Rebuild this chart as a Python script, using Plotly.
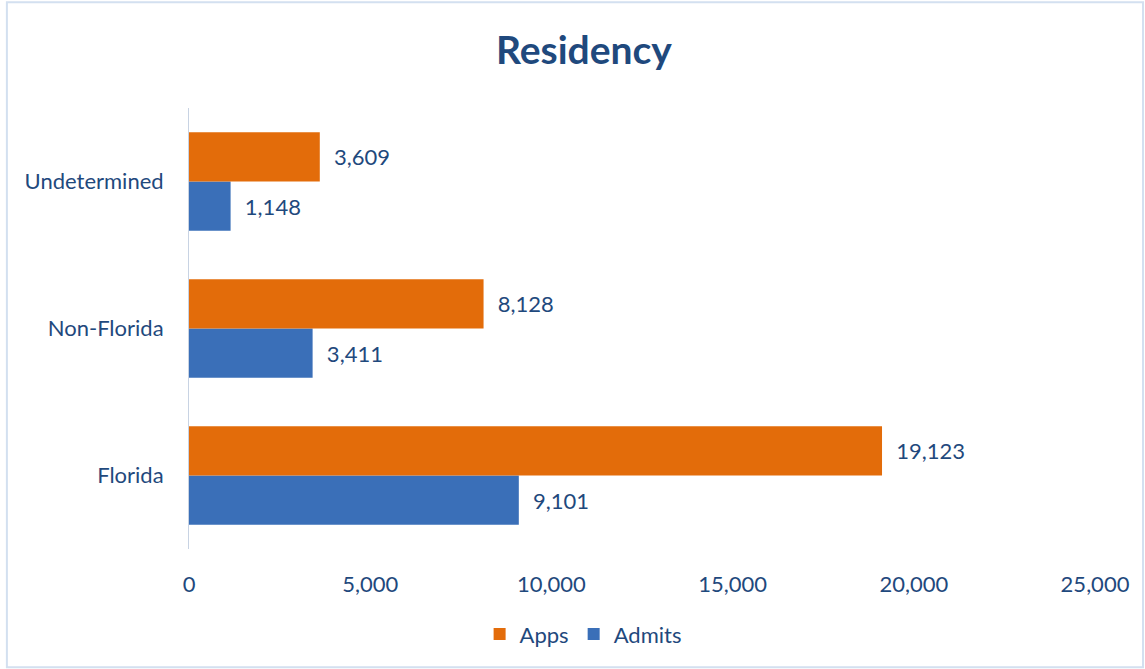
import plotly.graph_objects as go

categories = ["Florida", "Non-Florida", "Undetermined"]
apps = [19123, 8128, 3609]
admits = [9101, 3411, 1148]
x_ticks = [0, 5000, 10000, 15000, 20000, 25000]
x_tick_labels = ["0", "5,000", "10,000", "15,000", "20,000", "25,000"]

TXT = "#1F497D"
FONT = "Lato, Open Sans, sans-serif"
FS = 22

fig = go.Figure()
fig.add_trace(go.Bar(
    y=categories, x=admits, name="Admits", orientation="h",
    marker=dict(color="#3A6FB8", line=dict(width=0)),
    text=[f"  {v:,}" for v in admits], textposition="outside",
    textfont=dict(color=TXT, size=FS, family=FONT), cliponaxis=False,
))
fig.add_trace(go.Bar(
    y=categories, x=apps, name="Apps", orientation="h",
    marker=dict(color="#E36C0A", line=dict(width=0)),
    text=[f"  {v:,}" for v in apps], textposition="outside",
    textfont=dict(color=TXT, size=FS, family=FONT), cliponaxis=False,
))

fig.update_layout(
    width=1145, height=669,
    margin=dict(l=189, r=50, t=108, b=120),
    paper_bgcolor="white", plot_bgcolor="white",
    barmode="group", bargap=0.33, bargroupgap=0,
    font=dict(family=FONT, color=TXT, size=FS),
    title=dict(text="<b>Residency</b>", x=0.51, xanchor="center", y=0.925, yanchor="middle",
               font=dict(size=39, color=TXT, family=FONT)),
    legend=dict(orientation="h", x=0.435, xanchor="center", y=-0.193, yanchor="middle",
                traceorder="reversed", font=dict(size=FS, color=TXT),
                itemwidth=30),
    xaxis=dict(range=[0, 25000], tickvals=x_ticks, ticktext=x_tick_labels,
               showgrid=False, zeroline=False, showline=False,
               ticks="outside", ticklen=16, tickcolor="rgba(0,0,0,0)",
               tickfont=dict(size=FS, color=TXT)),
    yaxis=dict(categoryorder="array", categoryarray=categories,
               showgrid=False, zeroline=False, showline=True, linecolor="#C8D3E3",
               linewidth=1, ticks="outside", ticklen=20, tickcolor="rgba(0,0,0,0)",
               tickfont=dict(size=FS, color=TXT)),
    showlegend=True,
)

fig.add_shape(type="rect", xref="paper", yref="paper",
              x0=-0.201, x1=1.053, y0=-0.268, y1=1.240,
              line=dict(color="#D3E0F0", width=2), fillcolor="rgba(0,0,0,0)", layer="below")

fig.write_html("out.html", config={"displayModeBar": False},
               post_script="document.body.style.margin='0';")
